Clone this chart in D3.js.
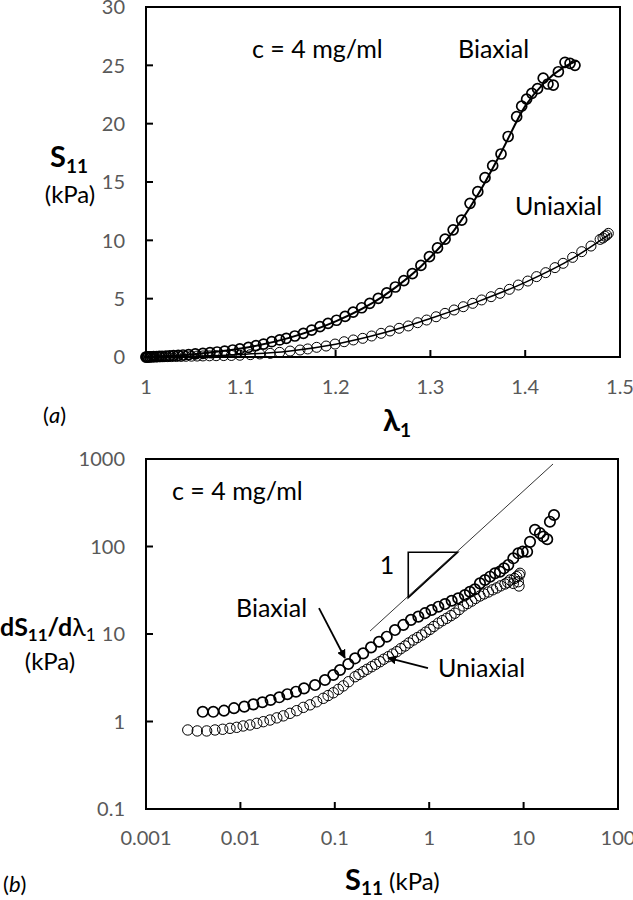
<!DOCTYPE html>
<html><head><meta charset="utf-8">
<script src="https://cdn.jsdelivr.net/npm/d3@7"></script>
<style>
html,body{margin:0;padding:0;background:#fff;}
text{font-family:Lato,"Open Sans",sans-serif;}
</style></head>
<body><svg id="c" width="633" height="900"></svg>
<script>
// ---------- Data: panel (a) ----------
const biaxLam = [1.000,1.001,1.002,1.004,1.006,1.008,1.011,1.014,1.017,1.021,1.025,1.029,1.034,1.039,1.045,1.052,1.060,1.0675,1.075,1.083,1.0915,1.099,1.108,1.116,1.124,1.1326,1.141,1.148,1.157,1.166,1.1748,1.1835,1.192,1.201,1.210,1.2185,1.2275,1.236,1.245,1.254,1.263,1.272,1.281,1.290,1.299,1.3075,1.3155,1.324,1.333,1.3418,1.350,1.3576,1.3657,1.3745,1.382,1.391,1.3963,1.4015,1.407,1.413,1.419,1.424,1.4296,1.435,1.442,1.4473,1.4525];
const biaxS = [0.00,0.00,0.01,0.01,0.02,0.03,0.04,0.05,0.06,0.08,0.09,0.11,0.14,0.17,0.20,0.26,0.31,0.37,0.43,0.51,0.60,0.69,0.83,0.97,1.11,1.31,1.46,1.60,1.80,2.03,2.31,2.60,2.88,3.15,3.48,3.85,4.22,4.60,5.03,5.50,6.00,6.55,7.15,7.85,8.60,9.35,10.1,10.9,11.74,13.17,14.17,15.37,16.4,17.4,18.9,20.6,21.5,22.1,22.6,23.0,23.9,23.4,23.3,24.45,25.26,25.17,25.0];
const uniLam = [1.000,1.002,1.004,1.006,1.009,1.012,1.015,1.019,1.023,1.027,1.032,1.037,1.042,1.048,1.054,1.060,1.067,1.074,1.082,1.090,1.099,1.110,1.120,1.131,1.141,1.152,1.1625,1.1706,1.180,1.190,1.1994,1.209,1.2187,1.2286,1.238,1.248,1.2574,1.267,1.2767,1.2865,1.296,1.306,1.3154,1.325,1.3347,1.3446,1.354,1.364,1.3734,1.3833,1.3928,1.4027,1.412,1.4216,1.4314,1.440,1.450,1.4596,1.4694,1.479,1.482,1.484,1.486,1.4877];
const uniS = [0,0,0.005,0.01,0.01,0.015,0.02,0.025,0.03,0.035,0.04,0.05,0.06,0.07,0.08,0.09,0.10,0.11,0.12,0.13,0.15,0.20,0.26,0.31,0.40,0.51,0.60,0.69,0.83,0.94,1.11,1.31,1.46,1.60,1.80,2.03,2.23,2.46,2.66,2.94,3.17,3.45,3.74,4.03,4.31,4.60,4.89,5.17,5.46,5.80,6.17,6.51,6.89,7.23,7.66,8.03,8.54,9.03,9.51,10.08,10.2,10.35,10.45,10.6];
const biaxFitLam = [1.0,1.05,1.10,1.15,1.20,1.25,1.30,1.325,1.35,1.375,1.40,1.42,1.44,1.455];
const biaxFitS   = [0,0.24,0.72,1.62,3.05,5.2,8.55,10.85,13.9,17.6,21.5,23.5,24.8,25.4];
const uniFitLam = [1.0,1.05,1.10,1.15,1.20,1.25,1.30,1.35,1.40,1.45,1.49];
const uniFitS   = [0,0.07,0.22,0.5,1.1,2.05,3.3,4.75,6.4,8.45,10.6];
const aXTicks = [1,1.1,1.2,1.3,1.4,1.5];
const aYTicks = [0,5,10,15,20,25,30];

// ---------- Data: panel (b) ----------
const bBiaxS = [0.00399,0.00516,0.0067,0.00855,0.011,0.0137,0.0171,0.0209,0.0258,0.0314,0.0388,0.0472,0.0617,0.0787,0.0964,0.1135,0.139,0.164,0.200,0.242,0.294,0.355,0.434,0.532,0.641,0.767,0.903,1.06,1.25,1.47,1.73,2.03,2.39,2.70,3.05,3.45,3.90,4.41,4.98,5.62,6.20,6.88,7.78,8.79,9.78,10.9,11.7,13.2,14.9,16.2,17.8,19.0,21.0];
const bBiaxD = [1.29,1.29,1.33,1.42,1.48,1.57,1.66,1.76,1.89,2.05,2.19,2.39,2.61,2.98,3.40,3.88,4.54,5.27,6.01,7.03,8.16,9.31,11.1,12.7,14.5,15.8,17.3,18.8,20.5,22.0,24.0,25.6,27.9,30.4,32.4,37.9,41.4,45.2,49.4,51.6,56.3,61.5,73.3,83.6,87.3,87.3,113,155,142,130,121,192,229];
const bUniS = [0.00277,0.00349,0.00439,0.00538,0.00649,0.00776,0.00914,0.0107,0.0126,0.0149,0.0175,0.0206,0.0243,0.0285,0.0335,0.0395,0.0464,0.0546,0.0642,0.0755,0.085,0.0964,0.109,0.123,0.14,0.164,0.18,0.200,0.22,0.246,0.27,0.301,0.33,0.369,0.41,0.453,0.50,0.555,0.61,0.679,0.75,0.834,0.92,1.02,1.12,1.25,1.38,1.53,1.7,1.87,2.07,2.30,2.55,2.82,3.1,3.45,3.8,4.23,4.7,5.19,5.7,6.35,6.8,7.18,7.78,8.0,8.45,8.79,9.0,9.16,8.93];
const bUniD = [0.80,0.78,0.78,0.80,0.815,0.836,0.858,0.889,0.913,0.953,0.995,1.04,1.10,1.16,1.24,1.33,1.45,1.55,1.68,1.84,1.98,2.13,2.33,2.55,2.85,3.25,3.45,3.71,3.95,4.23,4.5,4.82,5.15,5.50,5.9,6.28,6.8,7.30,7.9,8.53,9.1,9.74,10.5,11.3,12.2,13.3,14.2,15.1,16.2,17.3,19.0,20.9,22.3,23.8,25.5,27.2,28.7,30.2,32.0,33.6,35.5,37.3,39.0,41.4,37.9,43.0,45.2,39.6,47.0,49.4,35.4];
const slopeS = [0.236,20.5];
const slopeD = [10.8,877];
const triS = [0.6,0.6,2.0];
const triD = [26,86,86];
const bXTicks = [0.001,0.01,0.1,1,10,100];
const bXLabels = ["0.001","0.01","0.1","1","10","100"];
const bYTicks = [0.1,1,10,100,1000];
const bYLabels = ["0.1","1","10","100","1000"];

// ---------- Drawing ----------
const svg = d3.select("#c");
const gray = "#595959";
const TICKF = 20, ANNF = 25;
svg.append("defs").append("marker")
  .attr("id","arr").attr("viewBox","0 0 10 10").attr("refX",9).attr("refY",5)
  .attr("markerWidth",9).attr("markerHeight",9).attr("markerUnits","userSpaceOnUse")
  .attr("orient","auto")
  .append("path").attr("d","M0,0 L10,5 L0,10 Z").attr("fill","#000");

function frame(L,T,R,B){
  svg.append("rect").attr("x",L).attr("y",T).attr("width",R-L).attr("height",B-T)
    .attr("fill","none").attr("stroke","#000").attr("stroke-width",2);
}

// Panel (a)
const ax = d3.scaleLinear().domain([1,1.5]).range([146,620]);
const ay = d3.scaleLinear().domain([0,30]).range([357,7]);
frame(146,7,620,357);
const gA = svg.append("g");
aYTicks.forEach(v=>{
  gA.append("line").attr("x1",146).attr("x2",153).attr("y1",ay(v)).attr("y2",ay(v)).attr("stroke","#000").attr("stroke-width",2);
  gA.append("text").attr("x",125).attr("y",ay(v)).attr("dy","0.36em").attr("text-anchor","end")
    .attr("fill",gray).attr("font-size",TICKF).text(v);
});
aXTicks.forEach(v=>{
  gA.append("line").attr("x1",ax(v)).attr("x2",ax(v)).attr("y1",357).attr("y2",350).attr("stroke","#000").attr("stroke-width",2);
  gA.append("text").attr("x",ax(v)).attr("y",387).attr("dy","0.36em").attr("text-anchor","middle")
    .attr("fill",gray).attr("font-size",TICKF).text(v===1?"1":v.toFixed(1));
});
const lineA = d3.line().x(d=>ax(d[0])).y(d=>ay(d[1])).curve(d3.curveMonotoneX);
gA.append("path").attr("d",lineA(biaxFitLam.map((l,i)=>[l,biaxFitS[i]]))).attr("fill","none").attr("stroke","#000").attr("stroke-width",2);
gA.append("path").attr("d",lineA(uniFitLam.map((l,i)=>[l,uniFitS[i]]))).attr("fill","none").attr("stroke","#000").attr("stroke-width",1.5);
gA.selectAll("circle.u").data(uniLam.map((l,i)=>[l,uniS[i]])).enter().append("circle")
  .attr("cx",d=>ax(d[0])).attr("cy",d=>ay(d[1])).attr("r",5).attr("fill","none").attr("stroke","#000").attr("stroke-width",1);
gA.selectAll("circle.b").data(biaxLam.map((l,i)=>[l,biaxS[i]])).enter().append("circle")
  .attr("cx",d=>ax(d[0])).attr("cy",d=>ay(d[1])).attr("r",5).attr("fill","none").attr("stroke","#000").attr("stroke-width",1.7);
gA.append("text").attr("x",252).attr("y",58).attr("font-size",ANNF).text("c = 4 mg/ml");
gA.append("text").attr("x",458).attr("y",58).attr("font-size",ANNF).text("Biaxial");
gA.append("text").attr("x",515).attr("y",215).attr("font-size",ANNF).text("Uniaxial");
// axis labels (a)
const ylA = gA.append("text").attr("x",69).attr("y",167).attr("text-anchor","middle").attr("font-weight","bold").attr("font-size",29);
ylA.append("tspan").text("S");
ylA.append("tspan").attr("font-size",19).attr("dy",6).text("11");
gA.append("text").attr("x",70).attr("y",203).attr("text-anchor","middle").attr("font-size",24).text("(kPa)");
const xlA = gA.append("text").attr("x",397).attr("y",431).attr("text-anchor","middle").attr("font-weight","bold").attr("font-size",31);
xlA.append("tspan").text("λ");
xlA.append("tspan").attr("font-size",19).attr("dy",6).text("1");
const tA = gA.append("text").attr("x",43).attr("y",423).attr("font-size",22);
tA.append("tspan").text("(");
tA.append("tspan").attr("font-style","italic").text("a");
tA.append("tspan").text(")");

// Panel (b)
const bx = d3.scaleLog().domain([0.001,100]).range([146,618]);
const by = d3.scaleLog().domain([0.1,1000]).range([809,459]);
frame(146,459,618,809);
const gB = svg.append("g");
bYTicks.forEach((v,i)=>{
  gB.append("line").attr("x1",146).attr("x2",153).attr("y1",by(v)).attr("y2",by(v)).attr("stroke","#000").attr("stroke-width",2);
  gB.append("text").attr("x",125).attr("y",by(v)).attr("dy","0.36em").attr("text-anchor","end")
    .attr("fill",gray).attr("font-size",TICKF).text(bYLabels[i]);
});
bXTicks.forEach((v,i)=>{
  gB.append("line").attr("x1",bx(v)).attr("x2",bx(v)).attr("y1",809).attr("y2",802).attr("stroke","#000").attr("stroke-width",2);
  gB.append("text").attr("x",bx(v)).attr("y",838).attr("dy","0.36em").attr("text-anchor","middle")
    .attr("fill",gray).attr("font-size",TICKF).text(bXLabels[i]);
});
const lineB = d3.line().x(d=>bx(d[0])).y(d=>by(d[1]));
gB.append("path").attr("d",lineB(slopeS.map((s,i)=>[s,slopeD[i]]))).attr("fill","none").attr("stroke","#000").attr("stroke-width",0.8);
gB.append("path").attr("d",lineB(triS.map((s,i)=>[s,triD[i]]))+"Z").attr("fill","none").attr("stroke","#000").attr("stroke-width",1.6);
gB.selectAll("circle.u").data(bUniS.map((s,i)=>[s,bUniD[i]])).enter().append("circle")
  .attr("cx",d=>bx(d[0])).attr("cy",d=>by(d[1])).attr("r",5.2).attr("fill","none").attr("stroke","#000").attr("stroke-width",1);
gB.selectAll("circle.b").data(bBiaxS.map((s,i)=>[s,bBiaxD[i]])).enter().append("circle")
  .attr("cx",d=>bx(d[0])).attr("cy",d=>by(d[1])).attr("r",5.2).attr("fill","none").attr("stroke","#000").attr("stroke-width",1.7);
gB.append("text").attr("x",172).attr("y",500).attr("font-size",ANNF).text("c = 4 mg/ml");
gB.append("text").attr("x",387).attr("y",574).attr("text-anchor","middle").attr("font-size",ANNF).text("1");
gB.append("text").attr("x",236).attr("y",617).attr("font-size",ANNF).text("Biaxial");
gB.append("text").attr("x",438).attr("y",677).attr("font-size",ANNF).text("Uniaxial");
gB.append("line").attr("x1",bx(0.068)).attr("y1",by(19.8)).attr("x2",bx(0.128)).attr("y2",by(5.32))
  .attr("stroke","#000").attr("stroke-width",1.8).attr("marker-end","url(#arr)");
gB.append("line").attr("x1",bx(0.97)).attr("y1",by(4.08)).attr("x2",bx(0.366)).attr("y2",by(5.32))
  .attr("stroke","#000").attr("stroke-width",1.8).attr("marker-end","url(#arr)");
// axis labels (b)
const ylB = gB.append("text").attr("x",0).attr("y",636).attr("font-size",25);
ylB.append("tspan").attr("font-weight","bold").text("dS");
ylB.append("tspan").attr("font-weight","bold").attr("font-size",17).attr("dy",5).text("11");
ylB.append("tspan").attr("font-weight","bold").attr("dy",-5).text("/d");
ylB.append("tspan").text("λ");
ylB.append("tspan").attr("font-size",17).attr("dy",5).text("1");
gB.append("text").attr("x",50).attr("y",670).attr("text-anchor","middle").attr("font-size",24).text("(kPa)");
const xlB = gB.append("text").attr("x",345).attr("y",890).attr("font-size",29);
xlB.append("tspan").attr("font-weight","bold").text("S");
xlB.append("tspan").attr("font-weight","bold").attr("font-size",19).attr("dy",5).text("11");
xlB.append("tspan").attr("font-size",24).attr("dy",-5).text(" (kPa)");
const tB = gB.append("text").attr("x",3).attr("y",892).attr("font-size",22);
tB.append("tspan").text("(");
tB.append("tspan").attr("font-style","italic").text("b");
tB.append("tspan").text(")");
</script></body></html>
